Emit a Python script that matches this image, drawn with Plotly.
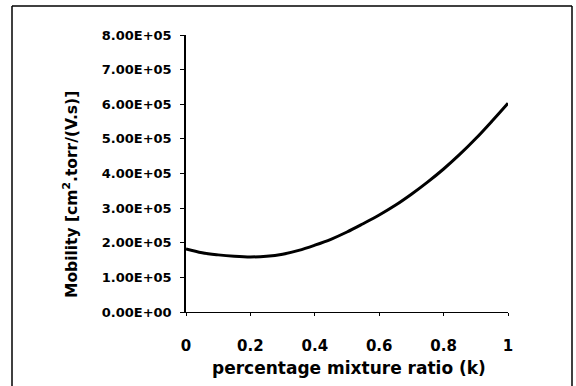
import plotly.graph_objects as go

# Mobility versus percentage mixture ratio
k_ratio = [0.0, 0.05, 0.10, 0.15, 0.20, 0.25, 0.30, 0.35, 0.40, 0.45, 0.50,
           0.55, 0.60, 0.65, 0.70, 0.75, 0.80, 0.85, 0.90, 0.95, 1.00]
mobility = [1.82e5, 1.71e5, 1.65e5, 1.61e5, 1.59e5, 1.61e5, 1.67e5, 1.78e5,
            1.93e5, 2.10e5, 2.31e5, 2.55e5, 2.80e5, 3.08e5, 3.40e5, 3.75e5,
            4.13e5, 4.55e5, 5.01e5, 5.51e5, 6.03e5]

x_ticks = [0, 0.2, 0.4, 0.6, 0.8, 1]
x_tick_text = ["0", "0.2", "0.4", "0.6", "0.8", "1"]
y_ticks = [0, 1e5, 2e5, 3e5, 4e5, 5e5, 6e5, 7e5, 8e5]
y_tick_text = ["0.00E+00", "1.00E+05", "2.00E+05", "3.00E+05", "4.00E+05",
               "5.00E+05", "6.00E+05", "7.00E+05", "8.00E+05"]

W, H = 576, 386
ML, MR, MT, MB = 186, 68, 35, 74
pw, ph = W - ML - MR, H - MT - MB


def px(xp):
    return (xp - ML) / pw


def py(yp):
    return (H - MB - yp) / ph


font_family = "DejaVu Sans, sans-serif"

fig = go.Figure()
fig.add_trace(go.Scatter(
    x=k_ratio, y=mobility, mode="lines",
    line=dict(color="black", width=3, shape="spline"),
    cliponaxis=False, showlegend=False,
))

fig.update_layout(
    width=W, height=H,
    margin=dict(l=ML, r=MR, t=MT, b=MB, pad=0),
    paper_bgcolor="white", plot_bgcolor="white",
    font=dict(family=font_family, color="black", size=13, weight="bold"),
    xaxis=dict(
        range=[0, 1], tickvals=x_ticks, ticktext=x_tick_text,
        showgrid=False, zeroline=False, showline=True, linecolor="black",
        linewidth=1, ticks="outside", ticklen=3, tickcolor="black",
        tickfont=dict(size=15, family=font_family, weight="bold"),
        ticklabelstandoff=17,
    ),
    yaxis=dict(
        range=[0, 8e5], tickvals=y_ticks, ticktext=y_tick_text,
        showgrid=False, zeroline=False, showline=True, linecolor="black",
        linewidth=1.5, ticks="outside", ticklen=4, tickcolor="black",
        tickfont=dict(size=13, family=font_family, weight="bold"),
        ticklabelstandoff=6,
    ),
    annotations=[
        dict(text="percentage mixture ratio (k)", xref="paper", yref="paper",
             x=px(349), y=py(368), xanchor="center", yanchor="middle",
             showarrow=False,
             font=dict(size=17, family=font_family, weight="bold")),
        dict(text="Mobility [cm<sup>2</sup>.torr/(V.s)]", xref="paper", yref="paper",
             x=px(70), y=py(195), xanchor="center", yanchor="middle",
             showarrow=False, textangle=-90,
             font=dict(size=15.5, family=font_family, weight="bold")),
    ],
    shapes=[
        dict(type="line", xref="paper", yref="paper", x0=px(12), x1=px(12),
             y0=py(6), y1=py(386), line=dict(color="black", width=1.5)),
        dict(type="line", xref="paper", yref="paper", x0=px(572), x1=px(572),
             y0=py(6), y1=py(386), line=dict(color="black", width=1.5)),
        dict(type="line", xref="paper", yref="paper", x0=px(12), x1=px(572),
             y0=py(6), y1=py(6), line=dict(color="black", width=1.5)),
    ],
)

fig.write_html("out.html")
